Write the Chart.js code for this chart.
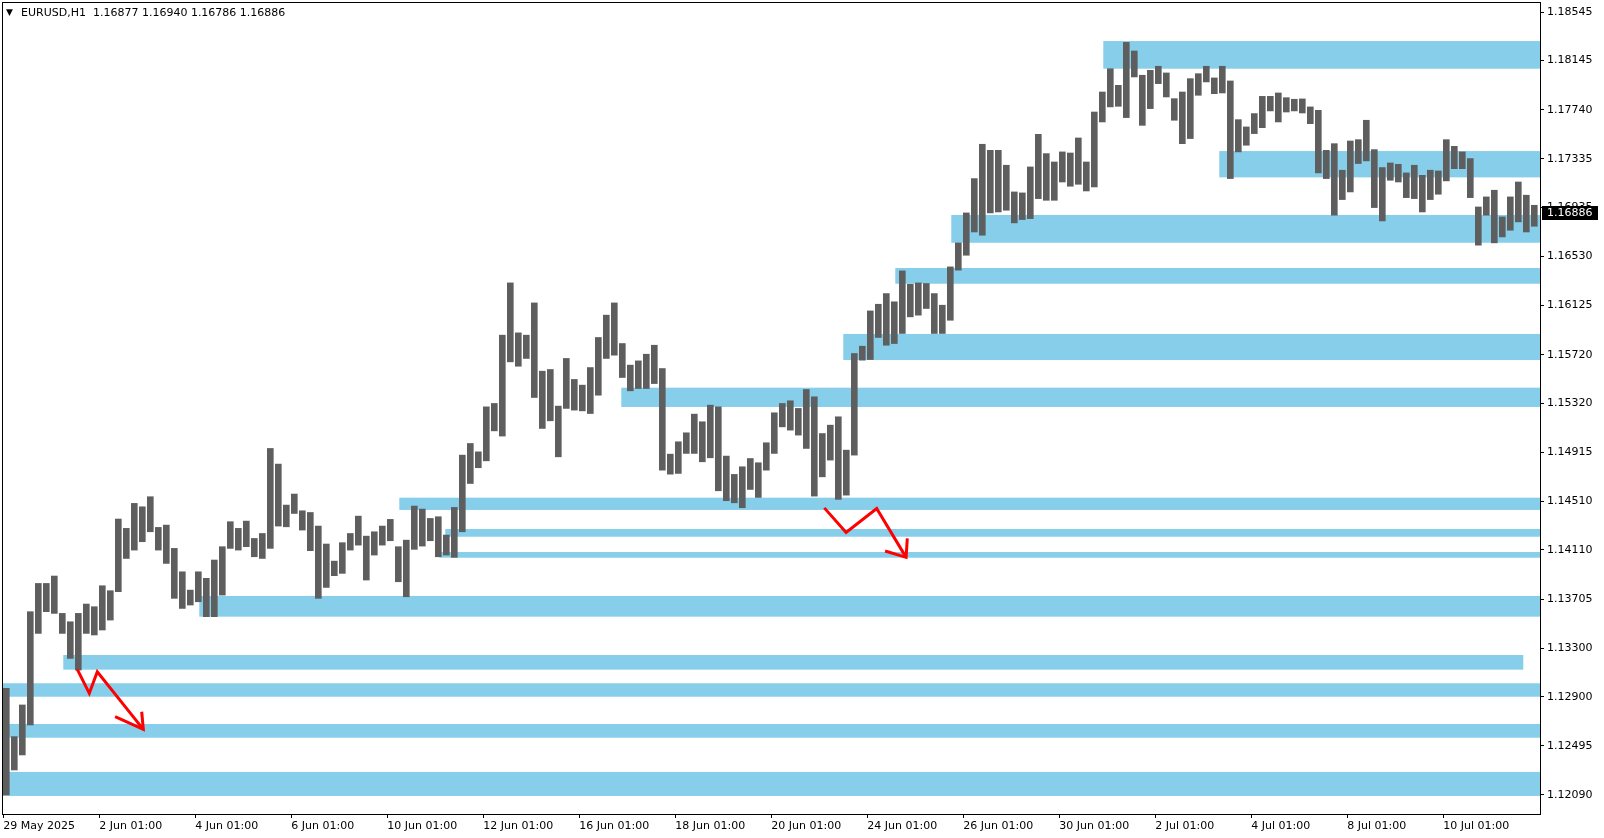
<!DOCTYPE html>
<html>
<head>
<meta charset="utf-8">
<script src="https://cdn.jsdelivr.net/npm/chart.js@4.4.1/dist/chart.umd.min.js"></script>
<style>
  html, body { margin: 0; padding: 0; background: #fff; }
  canvas { display: block; }
</style>
</head>
<body>
<canvas id="chart" width="1604" height="838"></canvas>
<script>
// EURUSD H1 in 4-hour groups (high / low of each group)
const symbolTitle = 'EURUSD,H1';
const lastBar = [1.16877, 1.16940, 1.16786, 1.16886]; // open high low close
const barsPerGroup = 4;
const hoursPerLabel = 48;

const timeLabels = ['29 May 2025', '2 Jun 01:00', '4 Jun 01:00', '6 Jun 01:00', '10 Jun 01:00',
  '12 Jun 01:00', '16 Jun 01:00', '18 Jun 01:00', '20 Jun 01:00', '24 Jun 01:00', '26 Jun 01:00',
  '30 Jun 01:00', '2 Jul 01:00', '4 Jul 01:00', '8 Jul 01:00', '10 Jul 01:00'];

const priceTicks = [1.12090, 1.12495, 1.12900, 1.13300, 1.13705, 1.14110, 1.14510, 1.14915,
  1.15320, 1.15720, 1.16125, 1.16530, 1.16935, 1.17335, 1.17740, 1.18145, 1.18545];

const groupHigh = [
  1.12969, 1.12571, 1.12832, 1.13601, 1.13834, 1.13834, 1.13895, 1.13587, 1.13518, 1.13587,
  1.13664, 1.13642, 1.13815, 1.13774, 1.14365, 1.14288, 1.14494, 1.14466, 1.14549, 1.14296,
  1.14315, 1.14123, 1.13930, 1.13779, 1.13930, 1.13876, 1.14027, 1.14137, 1.14343, 1.14288,
  1.14348, 1.14205, 1.14246, 1.14947, 1.14818, 1.14480, 1.14571, 1.14433, 1.14419, 1.14307,
  1.14159, 1.14018, 1.14170, 1.14246, 1.14389, 1.14224, 1.14260, 1.14307, 1.14362, 1.14137,
  1.14191, 1.14472, 1.14447, 1.14370, 1.14384, 1.14233, 1.14461, 1.14892, 1.14988, 1.14919,
  1.15290, 1.15318, 1.15881, 1.16312, 1.15900, 1.15881, 1.16147, 1.15584, 1.15598, 1.15296,
  1.15689, 1.15516, 1.15469, 1.15614, 1.15862, 1.16046, 1.16147, 1.15812, 1.15634, 1.15669,
  1.15724, 1.15798, 1.15606, 1.14900, 1.15002, 1.15076, 1.15230, 1.15167, 1.15304, 1.15290,
  1.14884, 1.14733, 1.14796, 1.14864, 1.14829, 1.14994, 1.15241, 1.15318, 1.15340, 1.15277,
  1.15433, 1.15373, 1.15070, 1.15139, 1.15208, 1.14933, 1.15730, 1.15790, 1.16081, 1.16136,
  1.16224, 1.16156, 1.16411, 1.16301, 1.16312, 1.16307, 1.16224, 1.16128, 1.16444, 1.16642,
  1.16889, 1.17172, 1.17455, 1.17405, 1.17405, 1.17282, 1.17062, 1.17054, 1.17268, 1.17537,
  1.17378, 1.17309, 1.17392, 1.17383, 1.17507, 1.17309, 1.17721, 1.17886, 1.18078, 1.17941,
  1.18295, 1.18224, 1.18024, 1.18065, 1.18098, 1.18043, 1.17831, 1.17886, 1.17996, 1.18037,
  1.18098, 1.18002, 1.18098, 1.17977, 1.17658, 1.17598, 1.17708, 1.17850, 1.17850, 1.17878,
  1.17839, 1.17826, 1.17829, 1.17763, 1.17735, 1.17405, 1.17460, 1.17241, 1.17482, 1.17493,
  1.17653, 1.17411, 1.17263, 1.17301, 1.17290, 1.17219, 1.17282, 1.17199, 1.17241, 1.17235,
  1.17493, 1.17438, 1.17392, 1.17337, 1.16938, 1.17021, 1.17076, 1.16856, 1.17021, 1.17144,
  1.17035, 1.16952
];

const groupLow = [
  1.12090, 1.12296, 1.12420, 1.12667, 1.13422, 1.13601, 1.13587, 1.13422, 1.13216, 1.13120,
  1.13422, 1.13409, 1.13450, 1.13532, 1.13766, 1.14040, 1.14109, 1.14178, 1.14260, 1.14109,
  1.13999, 1.13711, 1.13628, 1.13656, 1.13683, 1.13560, 1.13560, 1.13738, 1.14123, 1.14109,
  1.14137, 1.14054, 1.14040, 1.14123, 1.14307, 1.14301, 1.14411, 1.14274, 1.14104, 1.13711,
  1.13801, 1.13898, 1.13917, 1.14109, 1.14150, 1.13862, 1.14068, 1.14150, 1.14186, 1.13848,
  1.13724, 1.14115, 1.14142, 1.14186, 1.14054, 1.14068, 1.14049, 1.14260, 1.14658, 1.14788,
  1.14845, 1.15092, 1.15049, 1.15661, 1.15625, 1.15689, 1.15367, 1.15112, 1.15175, 1.14878,
  1.15277, 1.15263, 1.15257, 1.15235, 1.15386, 1.15689, 1.15716, 1.15532, 1.15422, 1.15441,
  1.15441, 1.15482, 1.14768, 1.14735, 1.14741, 1.14906, 1.14906, 1.14837, 1.14870, 1.14598,
  1.14516, 1.14499, 1.14458, 1.14609, 1.14543, 1.14768, 1.14906, 1.15125, 1.15098, 1.15057,
  1.14947, 1.14554, 1.14713, 1.14851, 1.14527, 1.14562, 1.14892, 1.15675, 1.15680, 1.15862,
  1.15798, 1.15812, 1.15895, 1.16032, 1.16046, 1.16101, 1.15895, 1.15895, 1.16004, 1.16417,
  1.16540, 1.16732, 1.16705, 1.16889, 1.16897, 1.16911, 1.16807, 1.16834, 1.16842, 1.17007,
  1.16993, 1.16993, 1.17144, 1.17109, 1.17125, 1.17070, 1.17103, 1.17639, 1.17763, 1.17768,
  1.17675, 1.18010, 1.17611, 1.17749, 1.17955, 1.17845, 1.17653, 1.17460, 1.17502, 1.17859,
  1.17969, 1.17872, 1.17878, 1.17172, 1.17392, 1.17447, 1.17543, 1.17592, 1.17730, 1.17639,
  1.17721, 1.17730, 1.17713, 1.17625, 1.17219, 1.17172, 1.16870, 1.16999, 1.17062, 1.17296,
  1.17318, 1.16933, 1.16823, 1.17158, 1.17144, 1.17015, 1.17007, 1.16897, 1.16999, 1.17043,
  1.17153, 1.17254, 1.17254, 1.17015, 1.16623, 1.16870, 1.16642, 1.16691, 1.16746, 1.16815,
  1.16732, 1.16779
];

// supply/demand boxes: start/end in H1 bars (null = chart edge), top/bottom in price
const zoneStart  = [550, 608, 474, 446, 420, 309, 198, 221, 218, 98, 30, null, null, null];
const zoneEnd    = [null, null, null, null, null, null, null, null, null, null, 760, null, null, null];
const zoneTop    = [1.18306, 1.17399, 1.16872, 1.16435, 1.15891, 1.15448, 1.14541, 1.14283, 1.14093, 1.13731, 1.13244, 1.13011, 1.12675, 1.12280];
const zoneBottom = [1.18078, 1.17182, 1.16643, 1.16305, 1.15676, 1.15289, 1.14440, 1.14219, 1.14046, 1.13560, 1.13123, 1.12900, 1.12562, 1.12082];

// red arrows
const arrow1X = [37, 43, 47, 70];
const arrow1Y = [1.13126, 1.12928, 1.13106, 1.12631];
const arrow1HeadX = [55.9, 70, 69.2];
const arrow1HeadY = [1.12735, 1.12631, 1.12776];
const arrow2X = [410.5, 421.4, 436.7, 451.4];
const arrow2Y = [1.14457, 1.14255, 1.14452, 1.14049];
const arrow2HeadX = [440.9, 451.4, 452];
const arrow2HeadY = [1.14101, 1.14049, 1.14205];

const FONT = 'DejaVu Sans';
const zoneColor = '#87CEEB';

const pts = (xs, ys) => xs.map((x, i) => ({ x: x, y: ys[i] }));

const arrowStyle = {
  type: 'line',
  borderColor: '#ff0000',
  borderWidth: 3,
  pointRadius: 0,
  fill: false,
  tension: 0,
  order: 0
};

// no extra room for half labels at the ends of the axes
const noPad = axis => {
  axis.paddingTop = 0; axis.paddingBottom = 0;
  axis.paddingLeft = 0; axis.paddingRight = 0;
};

const zonesPlugin = {
  id: 'zones',
  beforeDatasetsDraw(chart) {
    const { ctx, chartArea, scales: { x, y } } = chart;
    ctx.save();
    ctx.beginPath();
    ctx.rect(chartArea.left, chartArea.top, chartArea.right - chartArea.left, chartArea.bottom - chartArea.top);
    ctx.clip();
    ctx.fillStyle = zoneColor;
    zoneTop.forEach((top, i) => {
      const x0 = zoneStart[i] == null ? chartArea.left : x.getPixelForValue(zoneStart[i]);
      const x1 = zoneEnd[i] == null ? chartArea.right : x.getPixelForValue(zoneEnd[i]);
      const y0 = y.getPixelForValue(top);
      const y1 = y.getPixelForValue(zoneBottom[i]);
      ctx.fillRect(x0, y0, x1 - x0, y1 - y0);
    });
    ctx.restore();
  }
};

const decorPlugin = {
  id: 'decor',
  afterDraw(chart) {
    const { ctx, chartArea, scales: { y } } = chart;
    ctx.save();
    // frame
    ctx.strokeStyle = '#000';
    ctx.lineWidth = 1;
    ctx.strokeRect(Math.round(chartArea.left) + 0.5, Math.round(chartArea.top) + 0.5,
      Math.round(chartArea.right - chartArea.left), Math.round(chartArea.bottom - chartArea.top));

    // header
    ctx.fillStyle = '#000';
    ctx.textBaseline = 'middle';
    ctx.textAlign = 'left';
    ctx.font = '9px "' + FONT + '"';
    ctx.fillText('\u25BC', 6, 13);
    ctx.font = '11px "' + FONT + '"';
    ctx.fillText(symbolTitle + '  ' + lastBar.map(v => v.toFixed(5)).join(' '), 21, 13);

    // current price tag
    const close = lastBar[3];
    const py = Math.round(y.getPixelForValue(close));
    ctx.fillStyle = '#000';
    ctx.fillRect(chartArea.right + 2, py - 7, 56, 14);
    ctx.fillStyle = '#fff';
    ctx.fillText(close.toFixed(5), chartArea.right + 7, py + 0.5);
    ctx.restore();
  }
};

new Chart(document.getElementById('chart'), {
  type: 'bar',
  data: {
    datasets: [
      {
        type: 'bar',
        data: groupHigh.map((h, g) => ({ x: g * barsPerGroup + 1.5, y: [groupLow[g], h] })),
        backgroundColor: '#5e5e5e',
        barThickness: 6,
        order: 1
      },
      Object.assign({ data: pts(arrow1X, arrow1Y) }, arrowStyle),
      Object.assign({ data: pts(arrow1HeadX, arrow1HeadY) }, arrowStyle),
      Object.assign({ data: pts(arrow2X, arrow2Y) }, arrowStyle),
      Object.assign({ data: pts(arrow2HeadX, arrow2HeadY) }, arrowStyle)
    ]
  },
  options: {
    responsive: false,
    animation: false,
    devicePixelRatio: 1,
    layout: { padding: { left: 2, top: 2, right: 0, bottom: 0 } },
    plugins: { legend: { display: false }, tooltip: { enabled: false } },
    scales: {
      x: {
        type: 'linear',
        min: -0.65,
        max: 768.35,
        offset: false,
        grid: { drawOnChartArea: false, offset: false, tickLength: 4, color: '#000' },
        border: { display: true, color: '#000' },
        afterBuildTicks: axis => { axis.ticks = timeLabels.map((_, i) => ({ value: i * hoursPerLabel })); },
        afterFit: axis => { axis.height = 24; noPad(axis); },
        ticks: {
          autoSkip: false,
          maxRotation: 0,
          align: 'start',
          padding: 2,
          color: '#000',
          font: { family: FONT, size: 11 },
          callback: (v, i) => timeLabels[i]
        }
      },
      y: {
        type: 'linear',
        position: 'right',
        min: 1.11933,
        max: 1.18628,
        grid: { drawOnChartArea: false, tickLength: 4, color: '#000' },
        border: { display: true, color: '#000' },
        afterBuildTicks: axis => { axis.ticks = priceTicks.map(v => ({ value: v })); },
        afterFit: axis => { axis.width = 64; noPad(axis); },
        ticks: {
          padding: 3,
          color: '#000',
          font: { family: FONT, size: 11 },
          callback: v => v.toFixed(5)
        }
      }
    }
  },
  plugins: [zonesPlugin, decorPlugin]
});
</script>
</body>
</html>
